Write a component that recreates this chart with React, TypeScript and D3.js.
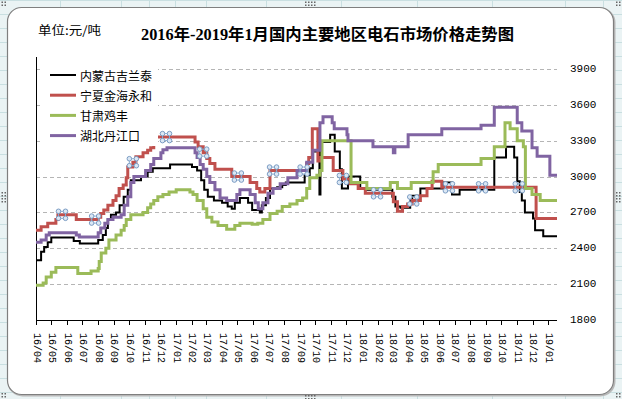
import React from 'react';
import * as d3 from 'd3';

// 四个地区的电石价格（元/吨），按变动日期记录
const seriesNames = ['内蒙古吉兰泰', '宁夏金海永和', '甘肃鸡丰', '湖北丹江口'];
const seriesColors = ['#000000', '#C0504D', '#9BBB59', '#8064A2'];

const neimenggu: [string, number | null][] = [
  ['2016-04-01', 2300], ['2016-04-11', 2370], ['2016-04-17', 2410], ['2016-04-24', 2450], ['2016-05-01', 2490],
  ['2016-06-14', 2460], ['2016-06-26', 2440], ['2016-08-01', 2470], ['2016-08-10', 2510], ['2016-08-16', 2570],
  ['2016-08-20', 2640], ['2016-08-26', 2680], ['2016-09-05', 2700], ['2016-09-12', 2760], ['2016-09-20', 2830],
  ['2016-09-28', 2890], ['2016-10-04', 2970], ['2016-10-24', 3000], ['2016-11-06', 3040], ['2016-11-16', 3070],
  ['2016-12-20', 3100], ['2017-02-01', 3080], ['2017-02-11', 3050], ['2017-02-19', 2970], ['2017-02-25', 2890],
  ['2017-03-04', 2830], ['2017-03-16', 2800], ['2017-04-01', 2780], ['2017-04-12', 2750], ['2017-04-20', 2730],
  ['2017-04-26', 2780], ['2017-05-06', 2820], ['2017-05-22', 2780], ['2017-05-30', 2720], ['2017-06-14', 2700],
  ['2017-06-18', 2760], ['2017-06-26', 2820], ['2017-07-04', 2900], ['2017-07-18', 2910], ['2017-07-28', 2930],
  ['2017-08-04', 2950], ['2017-09-10', 3010], ['2017-09-20', 3070], ['2017-09-26', 3210], ['2017-10-09', 2850],
  ['2017-10-11', 3290], ['2017-10-30', 3350], ['2017-11-08', 3210], ['2017-11-18', 3060], ['2017-11-22', 2900],
  ['2017-12-04', 3000], ['2017-12-28', 2900], ['2018-01-10', 2890], ['2018-03-01', 2830], ['2018-03-07', 2750],
  ['2018-03-17', 2740], ['2018-04-05', 2800], ['2018-04-09', 2840], ['2018-04-25', 2900], ['2018-06-08', 2950],
  ['2018-06-26', 2850], ['2018-07-11', 2890], ['2018-09-17', 3160], ['2018-10-10', 3250], ['2018-10-26', 3160],
  ['2018-11-01', 2960], ['2018-11-06', 2870], ['2018-11-10', 2800], ['2018-11-16', 2700], ['2018-12-02', 2650],
  ['2018-12-06', 2550], ['2018-12-22', 2500], ['2019-01-18', 2500],
];

const ningxia: [string, number | null][] = [
  ['2016-04-01', 2550], ['2016-04-11', 2580], ['2016-04-24', 2610], ['2016-05-10', 2640], ['2016-05-14', 2680],
  ['2016-06-19', 2640], ['2016-08-01', 2660], ['2016-08-06', 2690], ['2016-08-12', 2720], ['2016-08-20', 2760],
  ['2016-08-30', 2800], ['2016-09-05', 2840], ['2016-09-11', 2900], ['2016-09-19', 2930], ['2016-09-25', 2990],
  ['2016-09-28', 3080], ['2016-10-08', 3120], ['2016-10-14', 3165], ['2016-10-28', 3200], ['2016-11-06', 3220],
  ['2016-11-12', 3240], ['2016-11-18', 3255], ['2016-11-21', null], ['2016-11-26', 3330], ['2017-02-07', 3290],
  ['2017-02-13', 3250], ['2017-02-23', 3200], ['2017-03-02', 3150], ['2017-03-08', 3110], ['2017-03-18', 3060],
  ['2017-04-20', 3000], ['2017-05-26', 2950], ['2017-06-08', 2900], ['2017-06-14', 2870], ['2017-06-24', 2900],
  ['2017-07-04', 3050], ['2017-09-14', 3110], ['2017-09-18', 3160], ['2017-09-25', 3400], ['2017-10-06', 3130],
  ['2017-10-12', 3160], ['2017-11-05', 3050], ['2017-11-24', 2980], ['2017-12-08', 2940], ['2017-12-24', 2900],
  ['2018-01-07', 2860], ['2018-03-03', 2790], ['2018-03-11', 2710], ['2018-03-21', 2750], ['2018-03-31', 2770],
  ['2018-04-09', 2800], ['2018-04-25', 2840], ['2018-05-08', 2900], ['2018-05-18', 2960], ['2018-06-06', 2910],
  ['2018-12-08', 2650], ['2019-01-18', 2650],
];

const gansu: [string, number | null][] = [
  ['2016-04-01', 2090], ['2016-04-15', 2110], ['2016-04-21', 2160], ['2016-05-01', 2200], ['2016-05-10', 2240],
  ['2016-06-22', 2190], ['2016-07-18', 2210], ['2016-08-01', 2230], ['2016-08-03', 2290], ['2016-08-07', 2360],
  ['2016-08-16', 2400], ['2016-08-22', 2470], ['2016-09-05', 2510], ['2016-09-15', 2550], ['2016-09-21', 2590],
  ['2016-09-25', 2640], ['2016-10-04', 2680], ['2016-10-28', 2700], ['2016-11-06', 2740], ['2016-11-12', 2770],
  ['2016-11-18', 2800], ['2016-11-26', 2830], ['2016-12-06', 2850], ['2016-12-18', 2870], ['2017-01-01', 2890],
  ['2017-01-28', 2870], ['2017-02-03', 2850], ['2017-02-11', 2800], ['2017-02-23', 2730], ['2017-03-02', 2660],
  ['2017-03-12', 2620], ['2017-03-24', 2590], ['2017-04-10', 2560], ['2017-04-26', 2590], ['2017-05-06', 2610],
  ['2017-05-30', 2600], ['2017-06-10', 2610], ['2017-06-20', 2640], ['2017-07-04', 2690], ['2017-07-18', 2710],
  ['2017-07-28', 2750], ['2017-08-12', 2770], ['2017-08-26', 2800], ['2017-09-06', 2820], ['2017-09-14', 2900],
  ['2017-09-20', 2990], ['2017-10-04', 3010], ['2017-10-10', 3050], ['2017-10-14', 3300], ['2017-12-10', 2950],
  ['2018-01-10', 2900], ['2018-02-25', 2950], ['2018-03-11', 2900], ['2018-04-07', 2950], ['2018-05-20', 3040],
  ['2018-05-30', 3100], ['2018-08-22', 3150], ['2018-09-17', 3250], ['2018-10-08', 3450], ['2018-10-18', 3400],
  ['2018-11-01', 3300], ['2018-11-13', 3250], ['2018-11-17', 2900], ['2018-11-30', 2850], ['2018-12-16', 2800],
  ['2019-01-18', 2800],
];

const hubei: [string, number | null][] = [
  ['2016-04-01', 2450], ['2016-04-11', 2470], ['2016-04-21', 2510], ['2016-04-27', 2530], ['2016-06-19', 2510],
  ['2016-06-25', 2495], ['2016-08-01', 2530], ['2016-08-06', 2570], ['2016-08-14', 2610], ['2016-08-20', 2640],
  ['2016-08-30', 2660], ['2016-09-15', 2680], ['2016-09-21', 2760], ['2016-09-28', 2830], ['2016-10-04', 2950],
  ['2016-10-10', 3000], ['2016-11-02', 3050], ['2016-11-12', 3100], ['2016-11-18', 3150], ['2016-12-02', 3200],
  ['2016-12-06', 3225], ['2016-12-14', 3240], ['2017-02-07', 3200], ['2017-02-11', 3160], ['2017-02-17', 3100],
  ['2017-02-23', 3060], ['2017-03-02', 3000], ['2017-03-08', 2950], ['2017-03-18', 2890], ['2017-03-28', 2820],
  ['2017-04-10', 2800], ['2017-04-30', 2850], ['2017-05-06', 2890], ['2017-05-26', 2850], ['2017-06-05', 2780],
  ['2017-06-11', 2730], ['2017-06-20', 2780], ['2017-06-30', 2860], ['2017-07-10', 2900], ['2017-07-24', 2940],
  ['2017-08-08', 2990], ['2017-08-26', 3050], ['2017-09-14', 3120], ['2017-09-26', 3220], ['2017-10-10', 3450],
  ['2017-10-16', 3500], ['2017-11-03', 3450], ['2017-11-07', 3400], ['2017-12-02', 3350], ['2017-12-04', 3300],
  ['2018-01-22', 3250], ['2018-03-03', 3200], ['2018-03-06', 3250], ['2018-04-01', 3350], ['2018-06-06', 3400],
  ['2018-08-22', 3430], ['2018-09-17', 3580], ['2018-11-01', 3450], ['2018-11-10', 3380], ['2018-11-30', 3240],
  ['2018-12-10', 3170], ['2019-01-04', 3010], ['2019-01-18', 3010],
];

// 选中系列时 Excel 显示的点标记（在宁夏系列上）
const handleDates = [
  '2016-05-22', '2016-07-26', '2016-10-08', '2016-12-12', '2017-02-23', '2017-05-02', '2017-07-10',
  '2017-09-08', '2017-11-24', '2018-01-30', '2018-04-11', '2018-06-20', '2018-08-24', '2018-11-04',
];

const yTicks = [1800, 2100, 2400, 2700, 3000, 3300, 3600, 3900];
const title = '2016年-2019年1月国内主要地区电石市场价格走势图';
const unitLabel = '单位:元/吨';

const allSeries = [neimenggu, ningxia, gansu, hubei];

export default function App() {
  const W = 622, H = 399;
  const parse = d3.timeParse('%Y-%m-%d');
  const x = d3.scaleTime().domain([parse('2016-04-01')!, parse('2019-01-18')!]).range([36, 557]);
  const y = d3.scaleLinear().domain([1800, 4000]).range([320, 57]);
  const months = d3.timeMonth.range(parse('2016-04-01')!, parse('2019-01-02')!);
  const fmt = d3.timeFormat('%y/%m');

  const line = d3.line<[string, number | null]>()
    .defined(d => d[1] != null)
    .x(d => x(parse(d[0])!))
    .y(d => y(d[1] as number))
    .curve(d3.curveStepAfter);

  // 宁夏系列在某日的值
  const redAt = (ds: string) => {
    const t = parse(ds)!.getTime();
    let v = 0;
    for (const [d, val] of ningxia) {
      if (parse(d)!.getTime() <= t && val != null) v = val;
    }
    return v;
  };

  const cjk = '"Noto Sans CJK SC", sans-serif';
  const mono = '"Liberation Mono", monospace';

  const colLines = [60, 121, 149, 175, 206, 266, 341, 417, 492, 565, 603];
  const rowLines = d3.range(0, H, 14);

  const dots = (cx: number, cy: number, cols: number, rows: number, key: string) =>
    d3.range(cols).flatMap(i => d3.range(rows).map(j => (
      <rect key={`${key}-${i}-${j}`} x={cx + i * 3} y={cy + j * 3} width={1.5} height={1.5} fill="#666" />
    )));

  return (
    <svg width={W} height={H} style={{ position: 'absolute', left: 0, top: 0 }}>
      {/* 工作表背景 */}
      <rect x={0} y={0} width={W} height={H} fill="#eaf3f4" />
      {colLines.map(c => <line key={'c' + c} x1={c + 0.5} x2={c + 0.5} y1={0} y2={H} stroke="#c9dfe1" />)}
      {rowLines.map(r => <line key={'r' + r} x1={0} x2={W} y1={r + 0.5} y2={r + 0.5} stroke="#c9dfe1" />)}

      {/* 图表区 */}
      <rect x={8.5} y={8.5} width={606} height={387} rx={14} fill="none" stroke="#b8b8b8" strokeWidth={2} />
      <rect x={7.5} y={7.5} width={606} height={387} rx={14} fill="#ffffff" stroke="#7f7f7f" strokeWidth={1.2} />

      {dots(305, 1.5, 4, 2, 'tc')}
      {dots(305, 395, 4, 2, 'bc')}
      {dots(616, 192, 2, 4, 'rm')}
      {dots(1.5, 192, 2, 4, 'lm')}
      {dots(1.5, 1.5, 2, 2, 'tl')}
      {dots(616, 1.5, 2, 2, 'tr')}
      {dots(1.5, 393, 2, 2, 'bl')}
      {dots(616, 393, 2, 2, 'br')}

      <text x={38} y={35} fontFamily={cjk} fontSize={12} textLength={63} lengthAdjust="spacingAndGlyphs">{unitLabel}</text>
      <text x={141} y={40} fontFamily={`"Liberation Serif", ${cjk}`} fontWeight="bold" fontSize={16}
        textLength={373} lengthAdjust="spacingAndGlyphs">{title}</text>

      {/* 网格线 */}
      {yTicks.filter(t => t > 1800).map(t => (
        <line key={'g' + t} x1={36} x2={557} y1={Math.round(y(t)) + 0.5} y2={Math.round(y(t)) + 0.5}
          stroke="#b5b5b5" strokeDasharray="4 3" />
      ))}

      {/* 坐标轴 */}
      <line x1={36.5} x2={36.5} y1={57} y2={320} stroke="#000" />
      <line x1={36} x2={557} y1={320.5} y2={320.5} stroke="#000" />
      {months.map(m => (
        <line key={'t' + m.getTime()} x1={Math.round(x(m)) + 0.5} x2={Math.round(x(m)) + 0.5} y1={320} y2={325} stroke="#000" />
      ))}
      {months.map(m => (
        <text key={'l' + m.getTime()} transform={`translate(${x(m)},333) rotate(90)`} fontFamily={mono} fontSize={10}
          dominantBaseline="central" textAnchor="start">{fmt(m)}</text>
      ))}
      {yTicks.map(t => (
        <text key={'y' + t} x={570} y={y(t)} fontFamily={mono} fontSize={11} dominantBaseline="central">{t}</text>
      ))}

      {/* 数据线 */}
      {allSeries.map((s, i) => (
        <path key={'s' + i} d={line(s) || ''} fill="none" stroke={seriesColors[i]}
          strokeWidth={i === 0 ? 2 : 3} strokeLinejoin="miter" />
      ))}

      {/* 点标记 */}
      {handleDates.map(d => {
        const cx = x(parse(d)!), cy = y(redAt(d));
        return (
          <g key={'h' + d} transform={`translate(${cx},${cy})`}>
            <rect x={-3.5} y={-3.5} width={7} height={7} fill="none" stroke="#8eb0d4" strokeWidth={1} />
            {[[-3.5, -3.5], [3.5, -3.5], [-3.5, 3.5], [3.5, 3.5]].map(([a, b], k) => (
              <circle key={k} cx={a} cy={b} r={2.3} fill="#dbe7f4" stroke="#6f93bd" strokeWidth={0.9} />
            ))}
          </g>
        );
      })}

      {/* 图例 */}
      <rect x={43} y={61} width={115} height={85} fill="#ffffff" />
      {seriesNames.map((n, i) => {
        const ly = 75 + i * 20.2;
        return (
          <g key={'lg' + i}>
            <line x1={50} x2={76} y1={ly} y2={ly} stroke={seriesColors[i]} strokeWidth={i === 0 ? 2 : 3} />
            <text x={80} y={ly} fontFamily={cjk} fontSize={12} dominantBaseline="central">{n}</text>
          </g>
        );
      })}
    </svg>
  );
}
